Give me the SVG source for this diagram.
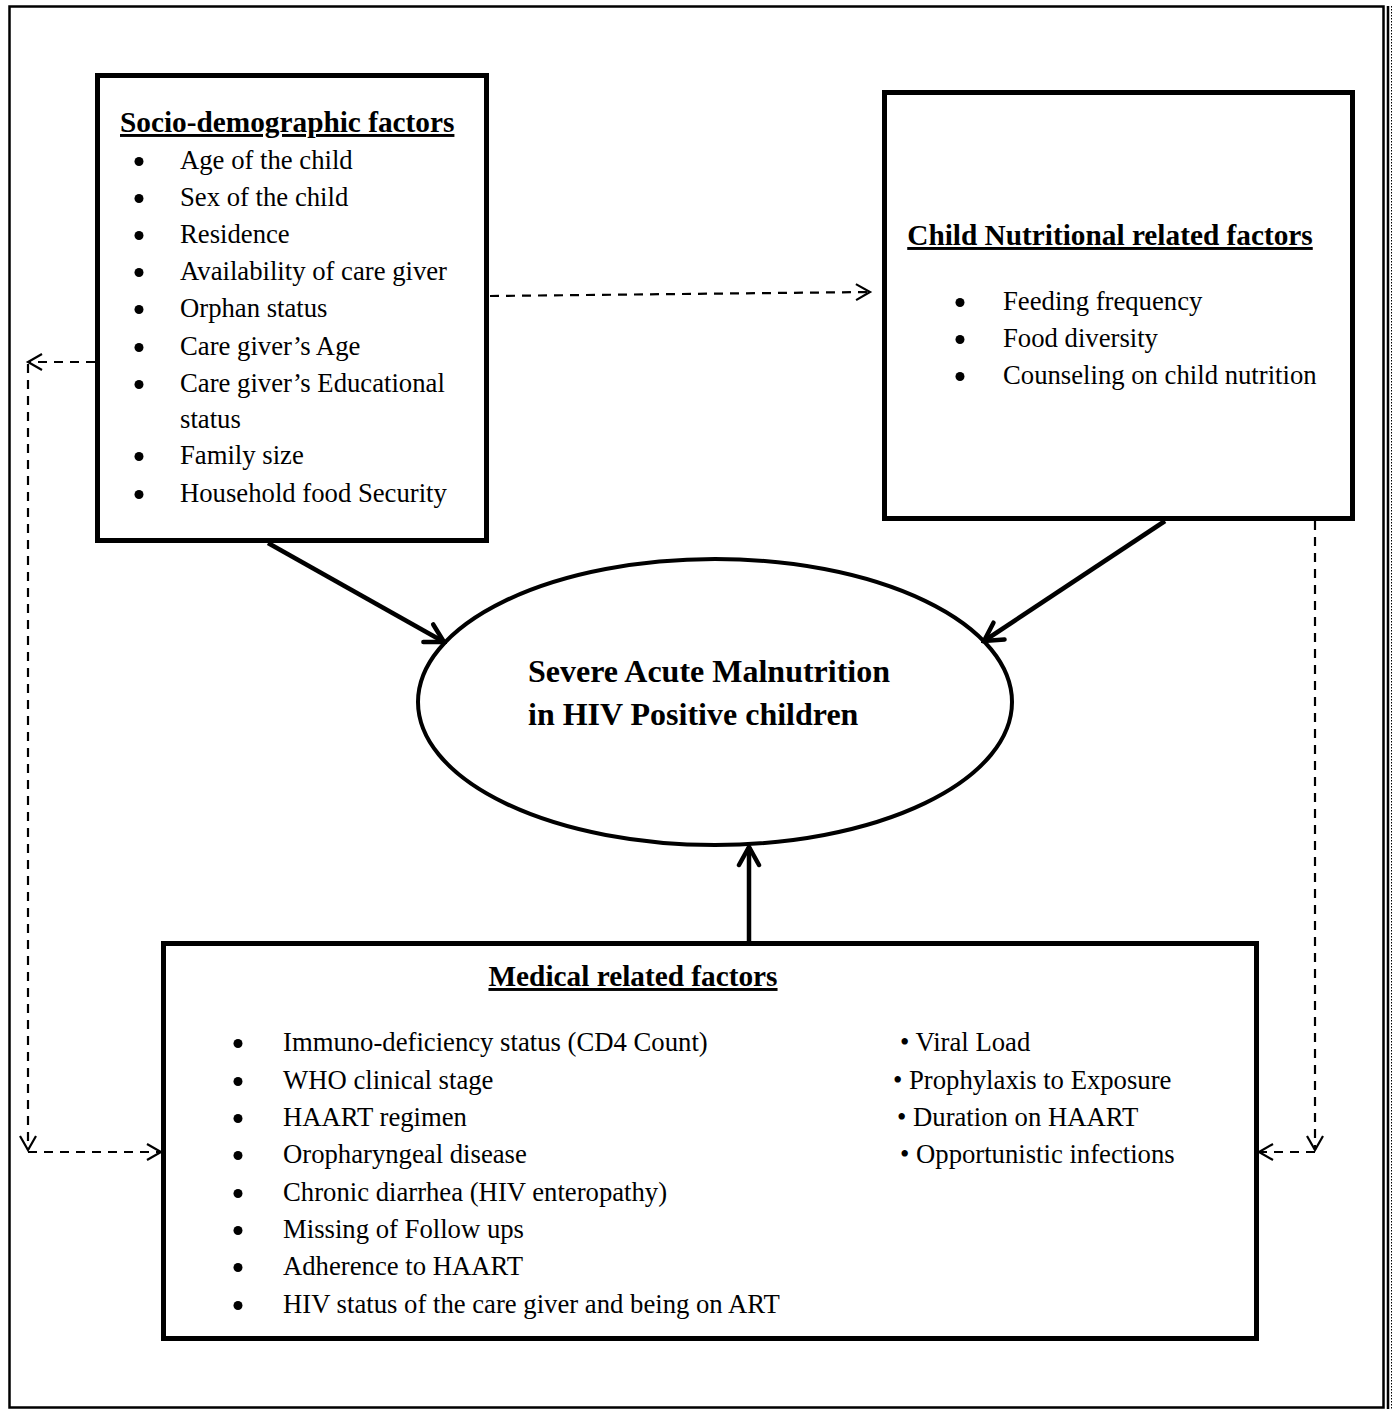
<svg xmlns="http://www.w3.org/2000/svg" width="1395" height="1410" viewBox="0 0 1395 1410">
<style>
.box{fill:#fff;stroke:#000;stroke-width:5}
.t{font-family:"Liberation Serif","Times New Roman",serif;font-size:26.7px;fill:#000}
.h{font-family:"Liberation Serif","Times New Roman",serif;font-size:29.3px;font-weight:bold;text-decoration:underline;fill:#000}
.c{font-family:"Liberation Serif","Times New Roman",serif;font-size:32px;font-weight:bold;fill:#000}
.dot{fill:#000}
.solid{stroke:#000;stroke-width:4.5;fill:none}
.dash{stroke:#000;stroke-width:2.2;fill:none;stroke-dasharray:9 7}
</style>
<defs>
<marker id="as" markerUnits="userSpaceOnUse" markerWidth="26" markerHeight="26" viewBox="0 0 26 26" refX="23" refY="13" orient="auto">
<path d="M5,3 L23,13 L5,23" fill="none" stroke="#000" stroke-width="4.5" stroke-linecap="round" stroke-linejoin="miter"/>
</marker>
<marker id="ad" markerUnits="userSpaceOnUse" markerWidth="20" markerHeight="20" viewBox="0 0 20 20" refX="17" refY="10" orient="auto">
<path d="M3,2 L17,10 L3,18" fill="none" stroke="#000" stroke-width="2.2"/>
</marker>
</defs>
<rect x="0" y="0" width="1395" height="1410" fill="#fff"/>
<g id="page-border">
<rect x="9.5" y="6.5" width="1374" height="1401" fill="none" stroke="#000" stroke-width="2.5"/>
<line x1="1388" y1="6" x2="1388" y2="1409" stroke="#000" stroke-width="2.5"/>
<line x1="1391.5" y1="6" x2="1391.5" y2="1409" stroke="#000" stroke-width="1" stroke-dasharray="1.5 1.5"/>
</g>
<g id="socio">
<rect class="box" x="97.5" y="75.5" width="389" height="465"/>
<text class="h" x="120" y="132">Socio-demographic factors</text>
<g class="dot">
<circle cx="139" cy="161.5" r="4.5"/><circle cx="139" cy="198.5" r="4.5"/><circle cx="139" cy="235.5" r="4.5"/><circle cx="139" cy="272.5" r="4.5"/><circle cx="139" cy="309.5" r="4.5"/><circle cx="139" cy="347.5" r="4.5"/><circle cx="139" cy="384.5" r="4.5"/><circle cx="139" cy="456.5" r="4.5"/><circle cx="139" cy="494.5" r="4.5"/>
</g>
<g class="t">
<text x="180" y="169">Age of the child</text>
<text x="180" y="206">Sex of the child</text>
<text x="180" y="243">Residence</text>
<text x="180" y="280">Availability of care giver</text>
<text x="180" y="317">Orphan status</text>
<text x="180" y="355">Care giver’s Age</text>
<text x="180" y="392">Care giver’s Educational</text>
<text x="180" y="428">status</text>
<text x="180" y="464">Family size</text>
<text x="180" y="502">Household food Security</text>
</g>
</g>
<g id="child">
<rect class="box" x="884.5" y="92.5" width="468" height="426"/>
<text class="h" x="1110" y="245" text-anchor="middle">Child Nutritional related factors</text>
<g class="dot">
<circle cx="960" cy="302.5" r="4.5"/><circle cx="960" cy="339.5" r="4.5"/><circle cx="960" cy="376.5" r="4.5"/>
</g>
<g class="t">
<text x="1003" y="310">Feeding frequency</text>
<text x="1003" y="347">Food diversity</text>
<text x="1003" y="384">Counseling on child nutrition</text>
</g>
</g>
<g id="outcome">
<ellipse cx="715" cy="702" rx="297" ry="143" fill="#fff" stroke="#000" stroke-width="4"/>
<text class="c" x="528" y="682">Severe Acute Malnutrition</text>
<text class="c" x="528" y="725">in HIV Positive children</text>
</g>
<g id="medical">
<rect class="box" x="163.5" y="943.5" width="1093" height="395"/>
<text class="h" x="633" y="986" text-anchor="middle">Medical related factors</text>
<g class="dot">
<circle cx="238" cy="1043.5" r="4.5"/><circle cx="238" cy="1081.5" r="4.5"/><circle cx="238" cy="1118.5" r="4.5"/><circle cx="238" cy="1155.5" r="4.5"/><circle cx="238" cy="1193.5" r="4.5"/><circle cx="238" cy="1230.5" r="4.5"/><circle cx="238" cy="1267.5" r="4.5"/><circle cx="238" cy="1305.5" r="4.5"/>
</g>
<g class="t">
<text x="283" y="1051">Immuno-deficiency status (CD4 Count)</text>
<text x="283" y="1089">WHO clinical stage</text>
<text x="283" y="1126">HAART regimen</text>
<text x="283" y="1163">Oropharyngeal disease</text>
<text x="283" y="1201">Chronic diarrhea (HIV enteropathy)</text>
<text x="283" y="1238">Missing of Follow ups</text>
<text x="283" y="1275">Adherence to HAART</text>
<text x="283" y="1313">HIV status of the care giver and being on ART</text>
<text x="900" y="1051">• Viral Load</text>
<text x="893" y="1089">• Prophylaxis to Exposure</text>
<text x="897" y="1126">• Duration on HAART</text>
<text x="900" y="1163">• Opportunistic infections</text>
</g>
</g>
<g id="connectors">
<line class="solid" x1="268" y1="543" x2="444" y2="642" marker-end="url(#as)"/>
<line class="solid" x1="1165" y1="521" x2="984" y2="641" marker-end="url(#as)"/>
<line class="solid" x1="749" y1="941" x2="749" y2="847" marker-end="url(#as)"/>
<line class="dash" x1="490" y1="296" x2="870" y2="292" marker-end="url(#ad)"/>
<line class="dash" x1="95" y1="362" x2="28" y2="362" marker-end="url(#ad)"/>
<line class="dash" x1="28" y1="364" x2="28" y2="1150" marker-end="url(#ad)"/>
<line class="dash" x1="28" y1="1152" x2="161" y2="1152" marker-end="url(#ad)"/>
<line class="dash" x1="1315" y1="521" x2="1315" y2="1150" marker-end="url(#ad)"/>
<line class="dash" x1="1315" y1="1152" x2="1259" y2="1152" marker-end="url(#ad)"/>
</g>
</svg>
